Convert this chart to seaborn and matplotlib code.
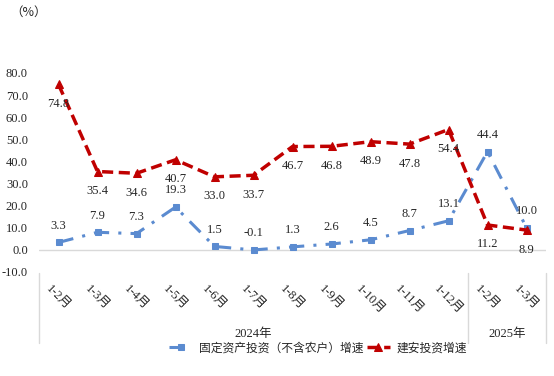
import numpy as np
import matplotlib.pyplot as plt
import seaborn as sns
import pandas as pd
from matplotlib import transforms

months = ['1-2月', '1-3月', '1-4月', '1-5月', '1-6月', '1-7月', '1-8月',
          '1-9月', '1-10月', '1-11月', '1-12月', '1-2月', '1-3月']
years = ['2024年', '2025年']
fixed_inv = [3.3, 7.9, 7.3, 19.3, 1.5, -0.1, 1.3, 2.6, 4.5, 8.7, 13.1, 44.4, 10.0]
build_inv = [74.8, 35.4, 34.6, 40.7, 33.0, 33.7, 46.7, 46.8, 48.9, 47.8, 54.4, 11.2, 8.9]
name_fixed = '固定资产投资（不含农户）增速'
name_build = '建安投资增速'

df = pd.DataFrame({'idx': range(len(months)), 'fixed': fixed_inv, 'build': build_inv})

sns.set_style('white')
plt.rcParams['font.family'] = ['Liberation Serif', 'Noto Sans CJK SC']

fig = plt.figure(figsize=(5.54, 3.76), dpi=100)
ax = fig.add_axes([0.0704, 0.277, 0.9152, 0.529])

blue = '#5B8BD0'
red = '#C00000'

sns.lineplot(data=df, x='idx', y='fixed', ax=ax, color=blue, linewidth=2.2,
             marker='s', markersize=5, markeredgecolor=blue, label=name_fixed)
ax.lines[-1].set_dashes([5, 3, 1, 3])
sns.lineplot(data=df, x='idx', y='build', ax=ax, color=red, linewidth=2.5,
             marker='^', markersize=6, markeredgecolor=red, label=name_build)
ax.lines[-1].set_dashes([3.2, 1.6])

# 数据标签
for i, v in enumerate(fixed_inv):
    ax.annotate(f'{v:.1f}', (i, v), xytext=(0, 12), textcoords='offset points',
                ha='center', va='center', fontsize=9)
for i, v in enumerate(build_inv):
    ax.annotate(f'{v:.1f}', (i, v), xytext=(0, -14), textcoords='offset points',
                ha='center', va='center', fontsize=9)

ax.set_xlim(-0.5, len(months) - 0.5)
ax.set_ylim(-10, 80)
ax.set_yticks(np.arange(-10, 81, 10))
ax.set_yticklabels([f'{t:.1f}' for t in np.arange(-10, 81, 10)], fontsize=9)
ax.set_xticks(range(len(months)))
ax.set_xticklabels(months, rotation=-45, ha='center', va='top', fontsize=9)
ax.tick_params(axis='both', length=0)
ax.tick_params(axis='y', pad=8)
ax.tick_params(axis='x', pad=8)
ax.axhline(0, color='#D9D9D9', linewidth=1, zorder=0)

for s in ax.spines.values():
    s.set_visible(False)
ax.set_xlabel('')
ax.set_ylabel('')

# 年份分组线
trans = transforms.blended_transform_factory(ax.transData, ax.transAxes)
for xv in [-0.5, 10.5, 12.5]:
    ax.plot([xv, xv], [-0.005, -0.36], transform=trans, color='#D9D9D9',
            linewidth=1, clip_on=False)
ax.text(5.0, -0.31, years[0], transform=trans, ha='center', va='center', fontsize=9)
ax.text(11.5, -0.31, years[1], transform=trans, ha='center', va='center', fontsize=9)

leg = ax.legend(loc='upper center', bbox_to_anchor=(0.55, -0.33), ncol=2, frameon=False,
                fontsize=8.5, handlelength=2.0, columnspacing=0.3, handletextpad=0.5,
                borderaxespad=0)

fig.text(0.018, 0.967, '（%）', fontsize=9, ha='left', va='center',
         family=['Noto Sans CJK SC', 'DejaVu Sans'])

plt.savefig('out.png', dpi=100)
plt.close()
